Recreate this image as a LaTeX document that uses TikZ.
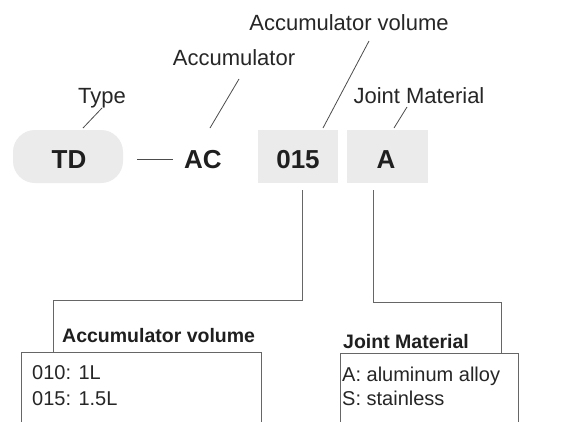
\documentclass[tikz,border=0pt]{standalone}
\usepackage{fontspec}
\setmainfont{Liberation Sans}
\begin{document}
\begin{tikzpicture}[x=1pt,y=-1pt,
  lbl/.style={anchor=base,font=\fontsize{22}{24}\selectfont,text=black!85,inner sep=0},
  code/.style={anchor=base,font=\fontsize{26}{28}\bfseries\selectfont,text=black!88,inner sep=0},
  codebox/.style={draw=none,fill=black!8,minimum width=80pt,minimum height=53pt,inner sep=0},
  hdr/.style={anchor=base west,font=\fontsize{19.5}{22}\bfseries\selectfont,text=black!88,inner sep=0},
  body/.style={anchor=base west,font=\fontsize{20}{22}\selectfont,text=black!85,inner sep=0},
  lead/.style={draw=black!70,line width=0.8pt},
  frame/.style={draw=black!60,line width=0.9pt}]
\clip (0,0) rectangle (562,421);
\fill[white] (0,0) rectangle (562,421);
% code boxes
\node[codebox,rounded corners=22pt,minimum width=110pt] (tdbox) at (68,156.5) {};
\node[codebox] (volbox) at (298,156.5) {};
\node[codebox,minimum width=81pt] (jbox) at (387.5,156.5) {};
% codes
\node[code] (td) at (69,168) {TD};
\node[code] (ac) at (203,168) {AC};
\node[code] (vol) at (298,168) {015};
\node[code] (jm) at (386,168) {A};
\coordinate (d1) at (137,159);
\coordinate (d2) at (173,159);
\draw[lead] (d1) -- (d2);
% top labels
\node[lbl] (ltype) at (102,103) {Type};
\node[lbl] (lacc) at (234,65) {Accumulator};
\node[lbl] (lvol) at (349,30) {Accumulator volume};
\node[lbl] (ljm) at (419,103) {Joint Material};
\coordinate (t1) at (83,128);  \coordinate (t2) at (102,108);
\coordinate (a1) at (210,128); \coordinate (a2) at (239,79);
\coordinate (v1) at (323,128); \coordinate (v2) at (369,41);
\coordinate (j1) at (394,128); \coordinate (j2) at (407,107);
\draw[lead] (t1) -- (t2);
\draw[lead] (a1) -- (a2);
\draw[lead] (v1) -- (v2);
\draw[lead] (j1) -- (j2);
% bottom boxes
\coordinate (lbtl) at (21,352);
\coordinate (lbbr) at (261,440);
\coordinate (rbtl) at (340,353);
\coordinate (rbbr) at (518,440);
\draw[frame] (lbtl) rectangle (lbbr);
\draw[frame] (rbtl) rectangle (rbbr);
\node[hdr] (hvol) at (62,342) {Accumulator volume};
\node[hdr] (hjm) at (343,348) {Joint Material};
\node[body] (b1) at (32,379) {010: 1L};
\node[body] (b2) at (32,405) {015: 1.5L};
\node[body] (b3) at (342,381) {A: aluminum alloy};
\node[body] (b4) at (342,405) {S: stainless};
% connectors
\coordinate (c1) at (302,190);
\coordinate (c2) at (53,300);
\coordinate (c3) at (53,352);
\draw[frame] (c1) |- (c2) -- (c3);
\coordinate (e1) at (373,190);
\coordinate (e2) at (501,302);
\coordinate (e3) at (501,353);
\draw[frame] (e1) |- (e2) -- (e3);
\end{tikzpicture}
\end{document}
